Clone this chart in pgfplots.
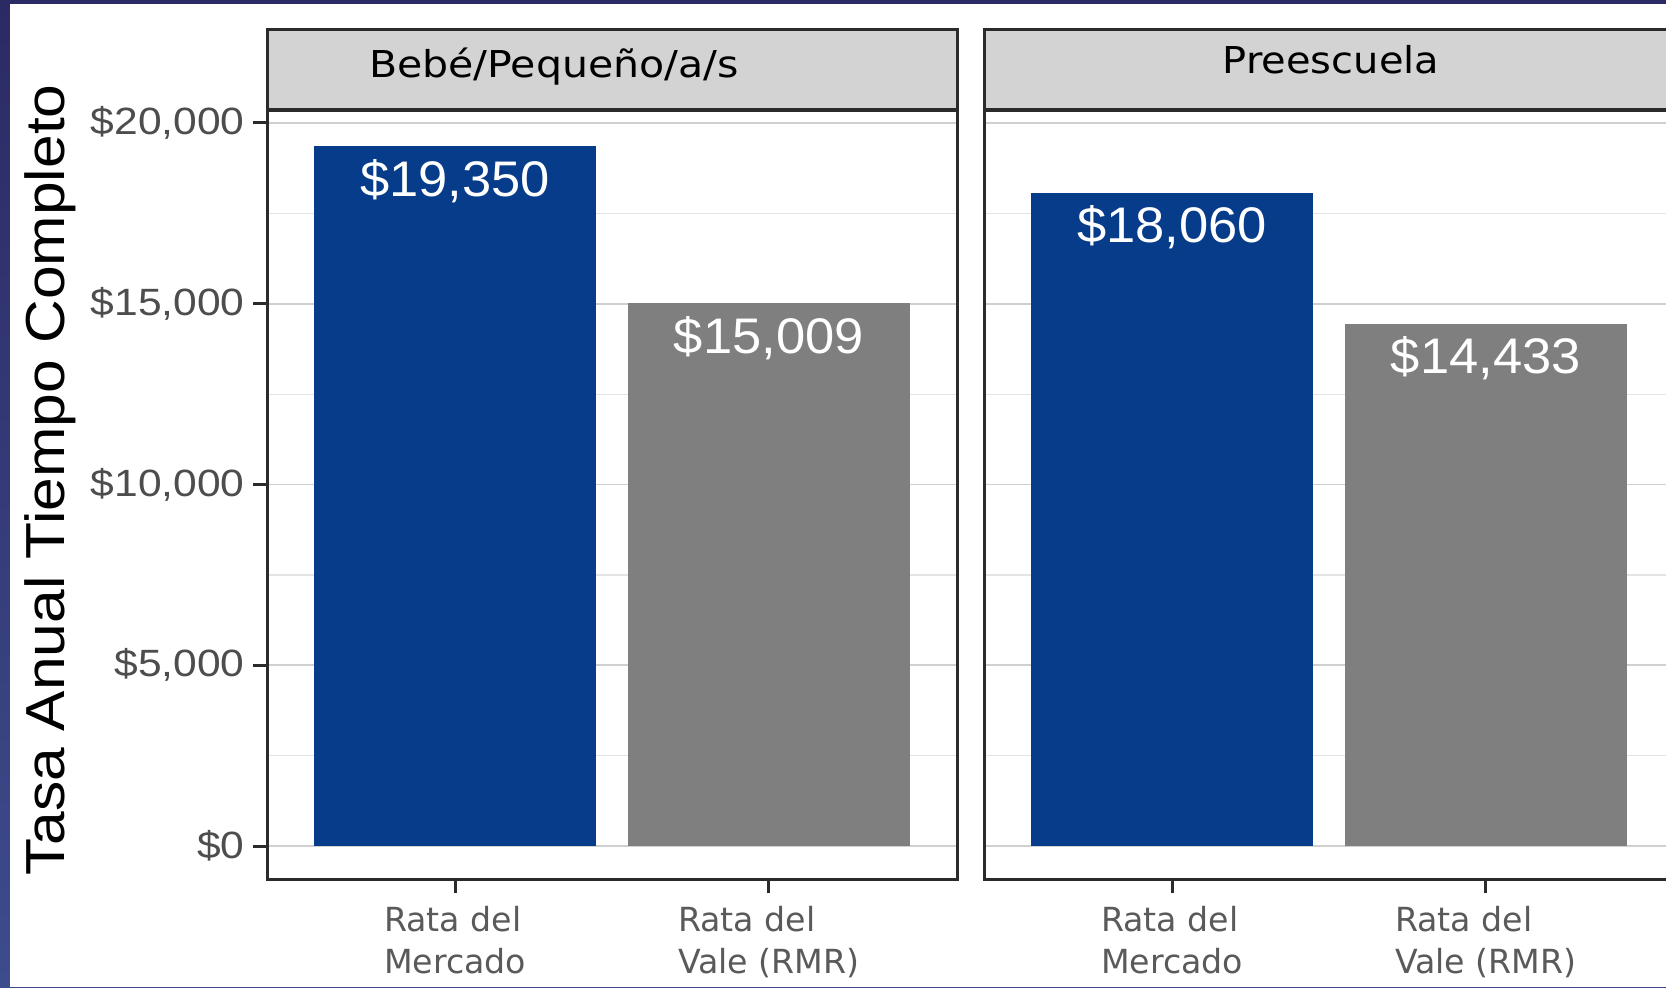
\documentclass[border=0pt]{standalone}
\usepackage{pgfplots}
\pgfplotsset{compat=1.18}
\usepackage{fontspec}
\setmainfont{Liberation Sans}
\newfontfamily\verd{DejaVu Sans}

\definecolor{barblue}{HTML}{063C89}
\definecolor{bargray}{HTML}{7F7F7F}
\definecolor{stripgray}{HTML}{D3D3D3}
\definecolor{frameline}{HTML}{2B2B2B}
\definecolor{ticktext}{HTML}{4D4D4D}
\definecolor{xtext}{HTML}{5A5A5A}
\definecolor{gridmaj}{HTML}{D0D0D0}
\definecolor{gridmin}{HTML}{E4E4E4}
\definecolor{navytop}{HTML}{2C2A64}
\definecolor{navybot}{HTML}{3D4C8C}

\newcommand{\yl}[1]{\scalebox{1.12}[1]{#1}}
\newcommand{\bl}[1]{\scalebox{1.05}[1]{#1}}

\pgfplotsset{
  facet/.style={
    width=172.5pt, height=192.25pt, scale only axis,
    anchor=south west,
    xmin=0.4, xmax=2.6, ymin=-911.6, ymax=20359,
    axis line style={frameline, line width=0.75pt},
    xtick={1,2},
    xticklabels={{Rata del\\Mercado},{Rata del\\Vale (RMR)}},
    xticklabel style={align=left, font=\verd\fontsize{8.3}{10.4}\selectfont,
      text=xtext, inner sep=0pt, anchor=north, yshift=-3.2pt},
    ytick={0,5000,10000,15000,20000},
    minor ytick={2500,7500,12500,17500},
    ymajorgrids, yminorgrids,
    major grid style={gridmaj, line width=0.4pt},
    minor grid style={gridmin, line width=0.3pt},
    tick align=outside,
    major tick length=3.5pt, minor tick length=0pt,
    tick style={frameline, line width=0.75pt},
    xtick pos=bottom, ytick pos=left,
    point meta=explicit symbolic,
    nodes near coords,
    every node near coord/.append style={text=white,
      font=\fontsize{12.5}{15}\selectfont, anchor=base, yshift=-12.4pt},
  },
  bars/.style={ybar, bar width=0.9, bar shift=0pt, draw=none, fill=#1},
}

\begin{document}
\begin{tikzpicture}
\useasboundingbox (0,0) rectangle (416.5pt,246.75pt);
\clip (0,0) rectangle (416.5pt,246.75pt);
\shade[top color=navytop, bottom color=navybot] (0,0) rectangle (416.5pt,246.75pt);
\fill[white] (2.6pt,0) rectangle (416.5pt,245.75pt);

% left facet
\begin{axis}[facet, at={(66.75pt,27pt)},
  yticklabels={{\yl{\$0}},{\yl{\$5,000}},{\yl{\$10,000}},{\yl{\$15,000}},{\yl{\$20,000}}},
  yticklabel style={text=ticktext, font=\fontsize{9.5}{11}\selectfont, anchor=east, inner sep=0pt, xshift=-1.9pt},
  ]
  \addplot[bars=barblue] coordinates {(1,19350) [\bl{\$19,350}]};
  \addplot[bars=bargray] coordinates {(2,15009) [\bl{\$15,009}]};
\end{axis}

% right facet
\begin{axis}[facet, at={(246pt,27pt)},
  yticklabels={}, ytick style={draw=none},
  ]
  \addplot[bars=barblue] coordinates {(1,18060) [\bl{\$18,060}]};
  \addplot[bars=bargray] coordinates {(2,14433) [\bl{\$14,433}]};
\end{axis}

% strips
\fill[stripgray] (66.75pt,219.25pt) rectangle (239.25pt,239.25pt);
\draw[frameline, line width=0.75pt] (66.75pt,219.25pt) -- (66.75pt,239.25pt) -- (239.25pt,239.25pt) -- (239.25pt,219.25pt);
\draw[frameline, line width=1pt] (66.75pt,219.25pt) -- (239.25pt,219.25pt);
\fill[stripgray] (246pt,219.25pt) rectangle (418.5pt,239.25pt);
\draw[frameline, line width=0.75pt] (246pt,219.25pt) -- (246pt,239.25pt) -- (418.5pt,239.25pt) -- (418.5pt,219.25pt);
\draw[frameline, line width=1pt] (246pt,219.25pt) -- (418.5pt,219.25pt);
\node[anchor=base, font=\verd\fontsize{9.25}{11}\selectfont, inner sep=0pt] at (138.5pt,227.25pt) {\scalebox{1.11}[1]{Bebé/Pequeño/a/s}};
\node[anchor=base, font=\verd\fontsize{9.25}{11}\selectfont, inner sep=0pt] at (332.75pt,228.25pt) {\scalebox{1.08}[1]{Preescuela}};

% y label
\node[rotate=90, anchor=base, font=\fontsize{13.75}{16}\selectfont, inner sep=0pt] at (16.25pt,126.75pt) {\scalebox{1.1}[1]{Tasa Anual Tiempo Completo}};
\end{tikzpicture}
\end{document}
